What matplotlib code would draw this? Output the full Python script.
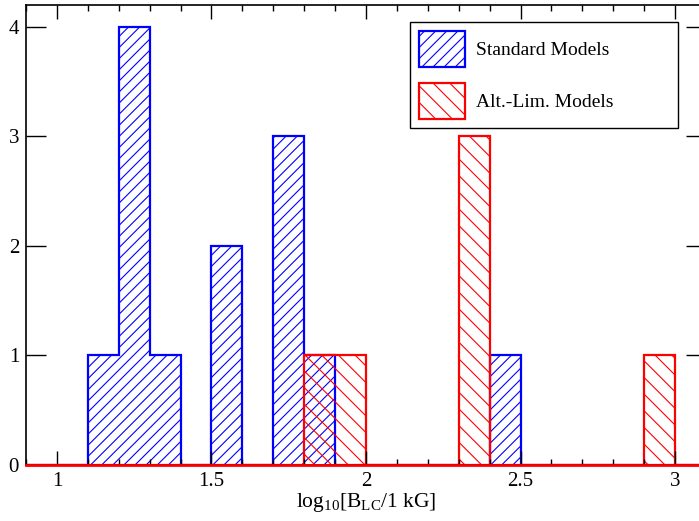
import numpy as np
import matplotlib
matplotlib.use("Agg")
import matplotlib.pyplot as plt
from matplotlib.ticker import MultipleLocator, FixedLocator

# Data: histogram bin edges (log10 B_LC) and counts
bin_edges = [0.9, 1.0, 1.1, 1.2, 1.3, 1.4, 1.5, 1.6, 1.7, 1.8, 1.9, 2.0,
             2.1, 2.2, 2.3, 2.4, 2.5, 2.6, 2.7, 2.8, 2.9, 3.0, 3.1]
standard_counts = [0, 0, 1, 4, 1, 0, 2, 0, 3, 1, 0,
                   0, 0, 0, 0, 1, 0, 0, 0, 0, 0, 0]
altlim_counts = [0, 0, 0, 0, 0, 0, 0, 0, 0, 1, 1,
                 0, 0, 0, 3, 0, 0, 0, 0, 0, 1, 0]
x_ticks = [1, 1.5, 2, 2.5, 3]
x_tick_labels = ["1", "1.5", "2", "2.5", "3"]
y_ticks = [0, 1, 2, 3, 4]
y_tick_labels = ["0", "1", "2", "3", "4"]
series_labels = ["Standard Models", "Alt.-Lim. Models"]

plt.rcParams['font.family'] = ['Liberation Serif', 'DejaVu Serif']
plt.rcParams['mathtext.fontset'] = 'custom'
plt.rcParams['mathtext.rm'] = 'Liberation Serif'
plt.rcParams['mathtext.it'] = 'Liberation Serif:italic'
plt.rcParams['hatch.linewidth'] = 0.8

fig = plt.figure(figsize=(6.99, 5.21), dpi=100)
ax = fig.add_axes([26/699, 1 - 465/521, (706 - 26)/699, (465 - 5)/521])

ax.stairs(standard_counts, bin_edges, fill=True, facecolor='none',
          edgecolor='blue', hatch='///', linewidth=1.6, label=series_labels[0])
ax.stairs(altlim_counts, bin_edges, fill=True, facecolor='none',
          edgecolor='red', hatch='\\\\', linewidth=1.6, label=series_labels[1])
ax.axhline(0, color='red', linewidth=2.0, zorder=4, clip_on=False)

ax.set_xlim(0.9, 3.1)
ax.set_ylim(0, 4.2)

ax.xaxis.set_major_locator(FixedLocator(x_ticks))
ax.set_xticklabels(x_tick_labels)
ax.xaxis.set_minor_locator(MultipleLocator(0.1))
ax.yaxis.set_major_locator(FixedLocator(y_ticks))
ax.set_yticklabels(y_tick_labels)

ax.tick_params(axis='x', which='major', direction='in', length=10, width=1.0,
               top=True, bottom=True, labelsize=15, pad=5)
ax.tick_params(axis='x', which='minor', direction='in', length=4.5, width=1.0,
               top=True, bottom=True)
ax.tick_params(axis='y', which='major', direction='in', length=14.5, width=1.0,
               left=True, right=True, labelsize=15, pad=5)
for sp in ax.spines.values():
    sp.set_linewidth(1.2)

ax.set_xlabel(r'log$_{10}$[B$_{\rm LC}$/1 kG]', fontsize=15.5, labelpad=0)

leg = fig.legend(*ax.get_legend_handles_labels(),
                 loc='upper left',
                 bbox_to_anchor=(410/699, 1 - 127/521, 268/699, 105/521),
                 mode='expand', borderaxespad=0, fontsize=14,
                 handlelength=2.4, handleheight=2.5, handletextpad=0.55,
                 labelspacing=0.8, borderpad=0.45, fancybox=False,
                 framealpha=1, edgecolor='black')
leg.get_frame().set_linewidth(1.0)

fig.savefig('out.png', dpi=100)
